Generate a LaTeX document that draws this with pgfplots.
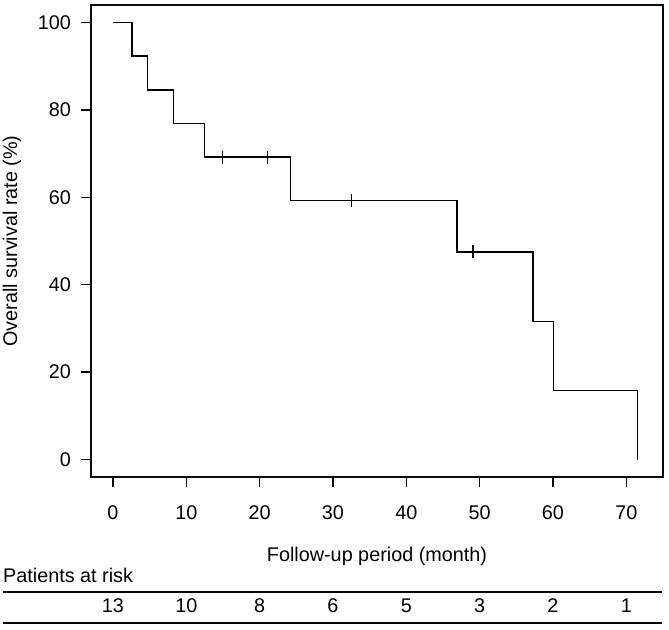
\documentclass[border=0pt]{standalone}
\usepackage{fontspec}
\setmainfont{Liberation Sans}
\usepackage{pgfplots}
\pgfplotsset{compat=1.18}
\definecolor{framecol}{rgb}{0.04,0.04,0.04}

\begin{document}
\begin{tikzpicture}[font=\fontsize{19.8bp}{24bp}\selectfont]
\begin{axis}[
    name=km,
    at={(0,0)}, anchor=south west,
    scale only axis,
    width=572bp, height=472bp,
    xmin=-3, xmax=75, ymin=-4, ymax=104,
    xtick={0,10,...,70}, ytick={0,20,...,100},
    tick pos=left,
    tick align=outside, major tick length=10bp,
    tick style={line width=1.4bp, black},
    axis line style={draw=framecol, line width=2.5bp},
    /pgf/number format/assume math mode=true,
    xticklabel style={inner sep=0pt, yshift=-18bp},
    yticklabel style={inner sep=0pt, xshift=-10bp},
    ylabel={Overall survival rate (\%)},
    ylabel style={at={(axis description cs:0,0.5)}, anchor=center, yshift=79bp},
    xlabel={Follow-up period (month)},
    xlabel style={at={(axis description cs:0.5,0)}, anchor=base, yshift=-84bp},
    clip=false
]

% Kaplan-Meier estimate
\addplot[const plot, black, line width=1.5bp] coordinates {
    (0,100) (2.6,92.3) (4.7,84.6) (8.25,76.9) (12.5,69.2) (24.2,59.3)
    (46.9,47.5) (57.3,31.6) (60.1,15.8) (71.5,0)
};

% Censored observations
\addplot[only marks, mark=|, mark size=6.5bp, mark options={line width=1.5bp}, black] coordinates {
    (14.9,69.2) (21.1,69.2) (32.5,59.3) (49.1,47.5)
};

% Patients at risk
\addplot[draw=none, mark=none, nodes near coords, point meta=explicit symbolic,
    nodes near coords style={anchor=center, inner sep=0pt}] table[meta=n] {
x y n
0 -33.4 13
10 -33.4 10
20 -33.4 8
30 -33.4 6
40 -33.4 5
50 -33.4 3
60 -33.4 2
70 -33.4 1
};
\end{axis}

% plot frame
\draw[line width=2.5bp, framecol] (0bp,0bp) -- (0bp,472bp) -- (572bp,472bp) -- (572bp,0bp) -- cycle;

\node[anchor=base west, inner sep=0pt] at (-88bp,-105bp) {Patients at risk};
\draw[line width=2bp] (-88bp,-115bp) -- (571bp,-115bp);
\draw[line width=2bp] (-88bp,-146bp) -- (571bp,-146bp);

\pgfresetboundingbox
\useasboundingbox (-91bp,-153bp) rectangle (578bp,477bp);
\end{tikzpicture}
\end{document}
